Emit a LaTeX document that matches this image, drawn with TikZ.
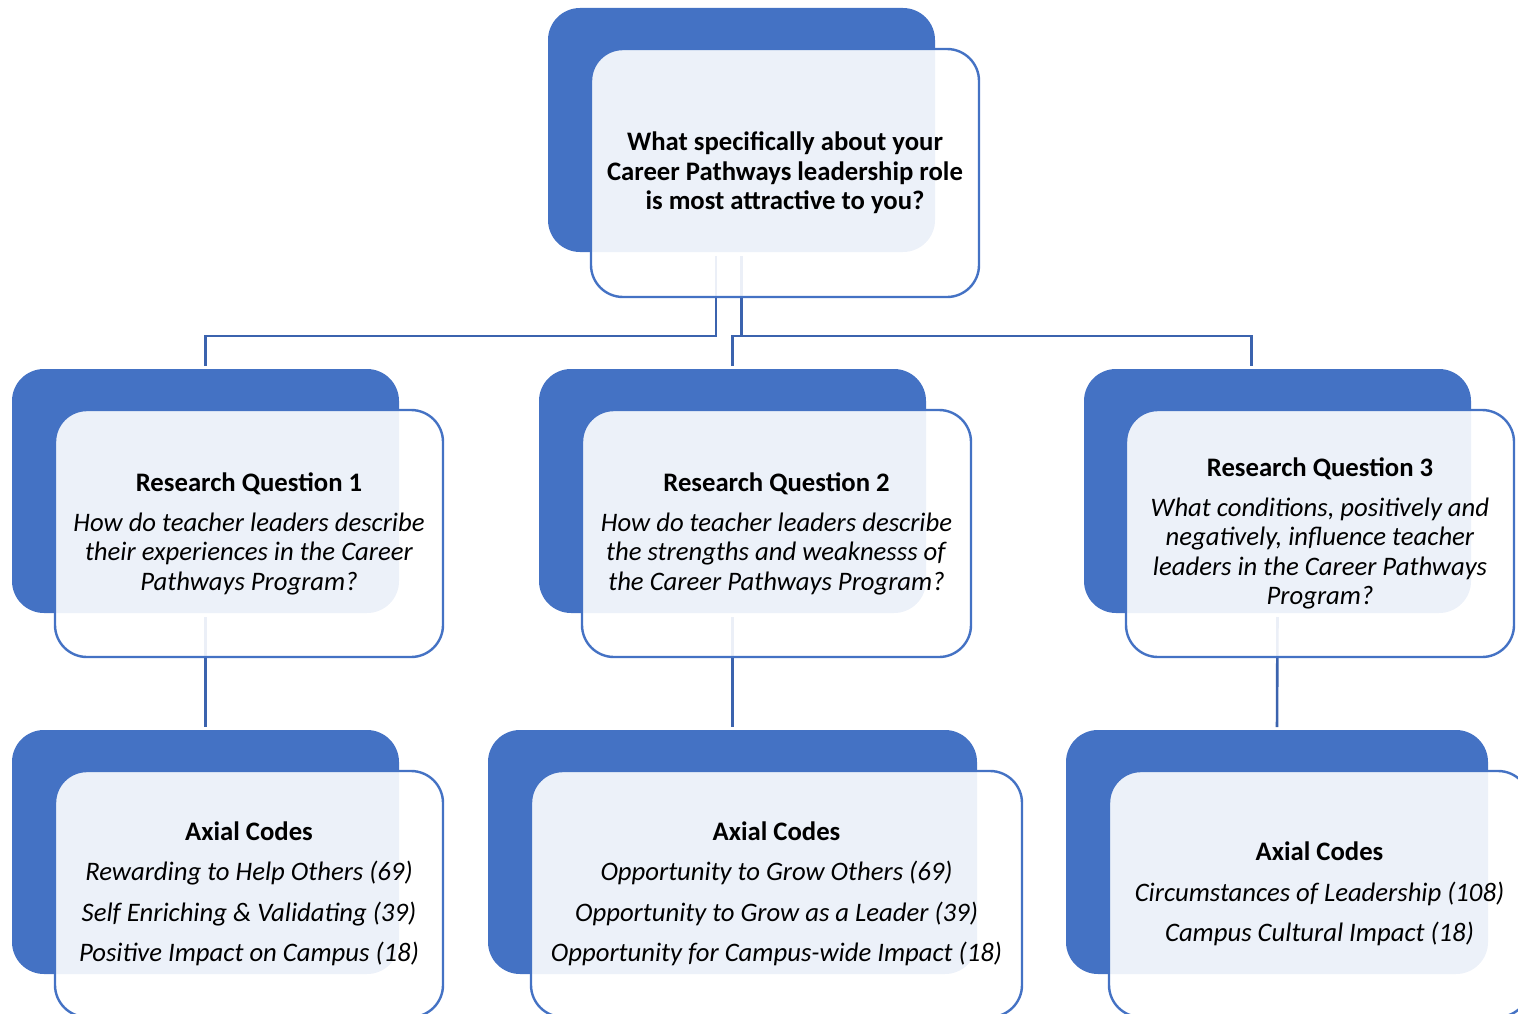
\documentclass[tikz,border=0pt]{standalone}
\usepackage{fontspec}
\setmainfont{Carlito}
\usetikzlibrary{positioning}
\definecolor{boxblue}{HTML}{4472C4}
\definecolor{lineblue}{HTML}{3B63AE}

\begin{document}
\begin{tikzpicture}[x=1pt,y=-1pt,
  back/.style={fill=boxblue,rounded corners=32pt,minimum height=244pt,inner sep=0pt,outer sep=0pt},
  front/.style={draw=boxblue,line width=2.4pt,fill=white,fill opacity=0.9,text opacity=1,rounded corners=32pt,minimum height=247pt,inner sep=0pt,outer sep=0pt,align=center,font=\fontsize{26.7}{29.5}\selectfont},
  conn/.style={draw=lineblue,line width=2.6pt,shorten >=3pt,shorten <=4pt}]
          \useasboundingbox (0,0) rectangle (1518,1014);
          % back plates
          \node[back,minimum width=387pt] (topb) at (741.5,130) {};
          \node[back,minimum width=387pt] (rq1b) at (205.5,491) {};
          \node[back,minimum width=387pt] (rq2b) at (732.5,491) {};
          \node[back,minimum width=387pt] (rq3b) at (1277.5,491) {};
          \node[back,minimum width=387pt] (ac1b) at (205.5,852) {};
          \node[back,minimum width=489pt] (ac2b) at (732.5,852) {};
          \node[back,minimum width=422pt] (ac3b) at (1277,852) {};
          % connectors
          \draw[conn] ([xshift=-25.5pt]topb.south) |- ([yshift=33pt]rq1b.north) -- (rq1b.north);
          \draw[conn] (topb.south) |- ([yshift=33pt]rq2b.north) -- (rq2b.north);
          \draw[conn] (topb.south) |- ([xshift=-26pt,yshift=33pt]rq3b.north) -- ([xshift=-26pt]rq3b.north);
          \draw[conn] (rq1b.south) -- (ac1b.north);
          \draw[conn] (rq2b.south) -- (ac2b.north);
          \draw[conn] (rq3b.south) -- (ac3b.north);
          % front cards
          \node[front,minimum width=388pt,minimum height=248pt] (top) at (785,173) {\textbf{What specifically about your}\\\textbf{Career Pathways leadership role}\\\textbf{is most attractive to you?}};
          \node[front,minimum width=388pt] (rq1) at (249,533.5) {\textbf{Research Question 1}\\[10.5pt]\textit{How do teacher leaders describe}\\\textit{their experiences in the Career}\\\textit{Pathways Program?}};
          \node[front,minimum width=389pt] (rq2) at (776.5,533.5) {\textbf{Research Question 2}\\[10.5pt]\textit{How do teacher leaders describe}\\\textit{the strengths and weaknesss of}\\\textit{the Career Pathways Program?}};
          \node[front,minimum width=388pt] (rq3) at (1320,533.5) {\textbf{Research Question 3}\\[10.5pt]\textit{What conditions, positively and}\\\textit{negatively, influence teacher}\\\textit{leaders in the Career Pathways}\\\textit{Program?}};
          \node[front,minimum width=388pt,minimum height=246pt] (ac1) at (249,894) {\textbf{Axial Codes}\\[11pt]\textit{Rewarding to Help Others (69)}\\[11pt]\textit{Self Enriching \& Validating (39)}\\[11pt]\textit{Positive Impact on Campus (18)}};
          \node[front,minimum width=491pt,minimum height=246pt] (ac2) at (776.5,894) {\textbf{Axial Codes}\\[11pt]\textit{Opportunity to Grow Others (69)}\\[11pt]\textit{Opportunity to Grow as a Leader (39)}\\[11pt]\textit{Opportunity for Campus-wide Impact (18)}};
          \node[front,minimum width=421pt,minimum height=246pt] (ac3) at (1319.5,894) {\textbf{Axial Codes}\\[11pt]\textit{Circumstances of Leadership (108)}\\[11pt]\textit{Campus Cultural Impact (18)}};
        \end{tikzpicture}
\end{document}
